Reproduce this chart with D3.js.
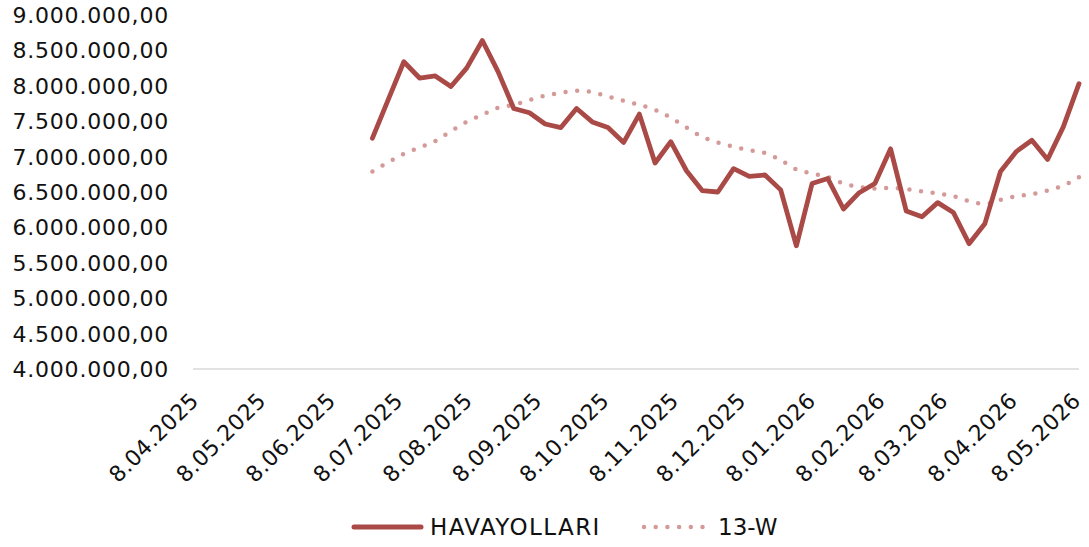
<!DOCTYPE html>
<html>
<head>
<meta charset="utf-8">
<script src="https://cdn.jsdelivr.net/npm/d3@7"></script>
<style>
  body { margin: 0; background: #fff; }
  text { font-family: "DejaVu Sans", sans-serif; fill: #111; }
</style>
</head>
<body>
<script>
// weekly dates (Fridays)
var dates = ["2025-06-27","2025-07-04","2025-07-11","2025-07-18","2025-07-25","2025-08-01","2025-08-08",
  "2025-08-15","2025-08-22","2025-08-29","2025-09-05","2025-09-12","2025-09-19","2025-09-26","2025-10-03",
  "2025-10-10","2025-10-17","2025-10-24","2025-10-31","2025-11-07","2025-11-14","2025-11-21","2025-11-28",
  "2025-12-05","2025-12-12","2025-12-19","2025-12-26","2026-01-02","2026-01-09","2026-01-16","2026-01-23",
  "2026-01-30","2026-02-06","2026-02-13","2026-02-20","2026-02-27","2026-03-06","2026-03-13","2026-03-20",
  "2026-03-27","2026-04-03","2026-04-10","2026-04-17","2026-04-24","2026-05-01","2026-05-08"];

// HAVAYOLLARI weekly values
var havayollari = [7260000,7800000,8340000,8110000,8140000,7990000,8250000,8640000,8200000,7680000,
  7620000,7460000,7410000,7680000,7490000,7410000,7200000,7600000,6910000,7210000,6800000,6520000,
  6500000,6830000,6720000,6740000,6530000,5740000,6620000,6690000,6260000,6490000,6620000,7110000,
  6230000,6150000,6350000,6210000,5770000,6050000,6790000,7070000,7230000,6960000,7420000,8030000];

// 13-W moving average
var w13 = [6790000,6920000,7040000,7130000,7220000,7360000,7490000,7590000,7690000,7730000,
  7800000,7860000,7900000,7930000,7910000,7850000,7790000,7730000,7660000,7550000,7410000,7280000,
  7200000,7140000,7090000,7050000,6950000,6820000,6760000,6710000,6620000,6570000,6550000,6560000,
  6540000,6510000,6480000,6440000,6370000,6330000,6390000,6440000,6470000,6520000,6590000,6710000];

var tickDates = ["2025-04-08","2025-05-08","2025-06-08","2025-07-08","2025-08-08","2025-09-08","2025-10-08",
  "2025-11-08","2025-12-08","2026-01-08","2026-02-08","2026-03-08","2026-04-08","2026-05-08"];
var yTicks = [4000000,4500000,5000000,5500000,6000000,6500000,7000000,7500000,8000000,8500000,9000000];

var seriesNames = ["HAVAYOLLARI", "13-W"];
var mainColor = "#a94a47", avgColor = "#d49a98";

var W = 1089, H = 547;
var parse = d3.utcParse("%Y-%m-%d");
var trLocale = d3.formatLocale({ decimal: ",", thousands: ".", grouping: [3], currency: ["", ""] });
var fmtY = trLocale.format(",.2f");
var fmtX = d3.utcFormat("%-d.%m.%Y");

var svg = d3.select("body").append("svg")
    .attr("width", W)
    .attr("height", H);

var x = d3.scaleUtc()
    .domain([parse(tickDates[0]), parse(tickDates[tickDates.length - 1])])
    .range([193, 1079]);
var y = d3.scaleLinear().domain([4000000, 9000000]).range([369, 15]);

// y labels
svg.append("g").selectAll("text")
    .data(yTicks)
    .enter().append("text")
    .attr("x", 169)
    .attr("y", function (d) { return y(d); })
    .attr("dy", "0.36em")
    .attr("text-anchor", "end")
    .style("font-size", "22px")
    .style("letter-spacing", "0.8px")
    .text(function (d) { return fmtY(d); });

// x axis line
svg.append("line")
    .attr("x1", 193).attr("x2", 1079)
    .attr("y1", 369).attr("y2", 369)
    .attr("stroke", "#d9d9d9")
    .attr("stroke-width", 1.5);

// x labels, rotated
svg.append("g").selectAll("text")
    .data(tickDates)
    .enter().append("text")
    .attr("transform", function (d) {
        var px = Math.min(x(parse(d)) + 7, 1082);
        return "translate(" + px + ",402) rotate(-45)";
    })
    .attr("text-anchor", "end")
    .style("font-size", "22px")
    .style("letter-spacing", "0.4px")
    .text(function (d) { return fmtX(parse(d)); });

var data = dates.map(function (d, i) { return { date: parse(d), v: havayollari[i], avg: w13[i] }; });

var line = d3.line()
    .x(function (d) { return x(d.date); })
    .y(function (d) { return y(d.v); });
var avgLine = d3.line()
    .x(function (d) { return x(d.date); })
    .y(function (d) { return y(d.avg); })
    .curve(d3.curveMonotoneX);

svg.append("path")
    .datum(data)
    .attr("d", avgLine)
    .attr("fill", "none")
    .attr("stroke", avgColor)
    .attr("stroke-width", 4.5)
    .attr("stroke-linecap", "round")
    .attr("stroke-dasharray", "0 11.7");

svg.append("path")
    .datum(data)
    .attr("d", line)
    .attr("fill", "none")
    .attr("stroke", mainColor)
    .attr("stroke-width", 4.8)
    .attr("stroke-linejoin", "round")
    .attr("stroke-linecap", "round");

// legend
var lg = svg.append("g");
lg.append("line")
    .attr("x1", 354).attr("x2", 421).attr("y1", 527).attr("y2", 527)
    .attr("stroke", mainColor).attr("stroke-width", 5).attr("stroke-linecap", "round");
lg.append("text").attr("x", 430).attr("y", 527).attr("dy", "0.36em")
    .style("font-size", "23px").style("letter-spacing", "1.4px").text(seriesNames[0]);
lg.append("line")
    .attr("x1", 644).attr("x2", 707).attr("y1", 527).attr("y2", 527)
    .attr("stroke", avgColor).attr("stroke-width", 4.5).attr("stroke-linecap", "round")
    .attr("stroke-dasharray", "0 11.7");
lg.append("text").attr("x", 718).attr("y", 527).attr("dy", "0.36em")
    .style("font-size", "23px").text(seriesNames[1]);
</script>
</body>
</html>
